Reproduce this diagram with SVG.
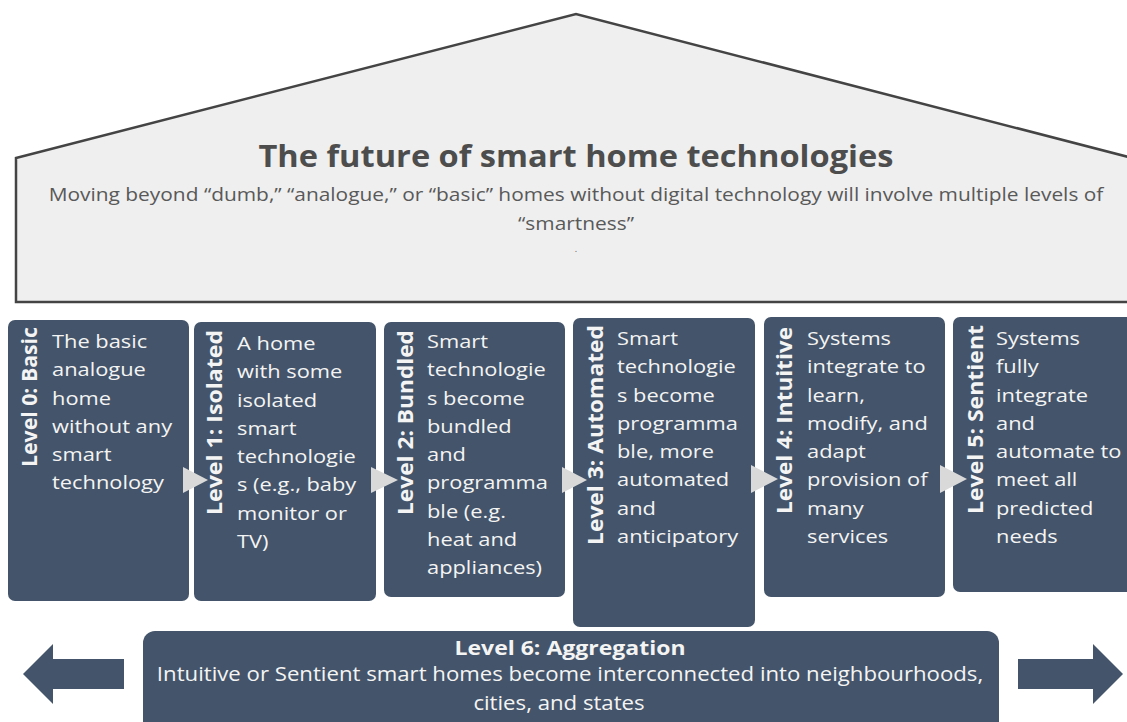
<svg xmlns="http://www.w3.org/2000/svg" width="1127" height="722" viewBox="0 0 1127 722">
<defs>
<style>
.box{fill:#44546a;}
.lbl{font-family:"Open Sans","Liberation Sans",sans-serif;font-weight:bold;font-size:22px;fill:#f4f4f4;}
.body{font-family:"Open Sans","Liberation Sans",sans-serif;font-size:19px;fill:#f4f4f4;}
.tri{fill:#d9d9d9;}
.big{fill:#44546a;}
.title{font-family:"Open Sans","Liberation Sans",sans-serif;font-weight:bold;font-size:31px;fill:#4d4d4d;}
.sub{font-family:"Open Sans","Liberation Sans",sans-serif;font-size:19px;fill:#595959;}
.dot{font-family:"Open Sans","Liberation Sans",sans-serif;font-size:9px;fill:#595959;}
.l6t{font-family:"Open Sans","Liberation Sans",sans-serif;font-weight:bold;font-size:20px;fill:#f4f4f4;}
.l6b{font-family:"Open Sans","Liberation Sans",sans-serif;font-size:20px;fill:#f4f4f4;}
</style>
</defs>
<rect width="1127" height="722" fill="#ffffff"/>
<g id="house">
<polygon points="16,158 576,14 1140,160 1140,302 16,302" fill="#efefef" stroke="#444444" stroke-width="2.5"/>
<text class="title" text-anchor="middle" x="576" y="167" textLength="635" lengthAdjust="spacingAndGlyphs">The future of smart home technologies</text>
<text class="sub" text-anchor="middle" transform="translate(576,201) scale(1.1,1)">Moving beyond “dumb,” “analogue,” or “basic” homes without digital technology will involve multiple levels of</text>
<text class="sub" text-anchor="middle" transform="translate(576,230) scale(1.1,1)">“smartness”</text>
<text class="dot" text-anchor="middle" x="576" y="252">.</text>
</g>
<g id="level0">
<rect class="box" x="8" y="320" width="181" height="281" rx="7"/>
<text class="lbl" text-anchor="end" transform="translate(37,327) rotate(-90)" textLength="140" lengthAdjust="spacingAndGlyphs">Level 0: Basic</text>
<text class="body" transform="translate(52,348) scale(1.15,1)"><tspan x="0" y="0">The basic</tspan><tspan x="0" y="28.3">analogue</tspan><tspan x="0" y="56.6">home</tspan><tspan x="0" y="84.9">without any</tspan><tspan x="0" y="113.2">smart</tspan><tspan x="0" y="141.5">technology</tspan></text>
</g>
<g id="level1">
<rect class="box" x="194" y="322" width="182" height="279" rx="7"/>
<text class="lbl" text-anchor="end" transform="translate(222,330) rotate(-90)" textLength="185" lengthAdjust="spacingAndGlyphs">Level 1: Isolated</text>
<text class="body" transform="translate(237,350) scale(1.15,1)"><tspan x="0" y="0">A home</tspan><tspan x="0" y="28.3">with some</tspan><tspan x="0" y="56.6">isolated</tspan><tspan x="0" y="84.9">smart</tspan><tspan x="0" y="113.2">technologie</tspan><tspan x="0" y="141.5">s (e.g., baby</tspan><tspan x="0" y="169.8">monitor or</tspan><tspan x="0" y="198.1">TV)</tspan></text>
</g>
<g id="level2">
<rect class="box" x="384" y="322" width="181" height="275" rx="7"/>
<text class="lbl" text-anchor="end" transform="translate(413,330) rotate(-90)" textLength="185" lengthAdjust="spacingAndGlyphs">Level 2: Bundled</text>
<text class="body" transform="translate(427,348) scale(1.15,1)"><tspan x="0" y="0">Smart</tspan><tspan x="0" y="28.3">technologie</tspan><tspan x="0" y="56.6">s become</tspan><tspan x="0" y="84.9">bundled</tspan><tspan x="0" y="113.2">and</tspan><tspan x="0" y="141.5">programma</tspan><tspan x="0" y="169.8">ble (e.g.</tspan><tspan x="0" y="198.1">heat and</tspan><tspan x="0" y="226.4">appliances)</tspan></text>
</g>
<g id="level3">
<rect class="box" x="573" y="318" width="182" height="309" rx="7"/>
<text class="lbl" text-anchor="end" transform="translate(603,325) rotate(-90)" textLength="220" lengthAdjust="spacingAndGlyphs">Level 3: Automated</text>
<text class="body" transform="translate(617,345) scale(1.15,1)"><tspan x="0" y="0">Smart</tspan><tspan x="0" y="28.3">technologie</tspan><tspan x="0" y="56.6">s become</tspan><tspan x="0" y="84.9">programma</tspan><tspan x="0" y="113.2">ble, more</tspan><tspan x="0" y="141.5">automated</tspan><tspan x="0" y="169.8">and</tspan><tspan x="0" y="198.1">anticipatory</tspan></text>
</g>
<g id="level4">
<rect class="box" x="764" y="317" width="181" height="280" rx="7"/>
<text class="lbl" text-anchor="end" transform="translate(792,327) rotate(-90)" textLength="187" lengthAdjust="spacingAndGlyphs">Level 4: Intuitive</text>
<text class="body" transform="translate(807,345) scale(1.15,1)"><tspan x="0" y="0">Systems</tspan><tspan x="0" y="28.3">integrate to</tspan><tspan x="0" y="56.6">learn,</tspan><tspan x="0" y="84.9">modify, and</tspan><tspan x="0" y="113.2">adapt</tspan><tspan x="0" y="141.5">provision of</tspan><tspan x="0" y="169.8">many</tspan><tspan x="0" y="198.1">services</tspan></text>
</g>
<g id="level5">
<rect class="box" x="953" y="317" width="185" height="275" rx="7"/>
<text class="lbl" text-anchor="end" transform="translate(983,325) rotate(-90)" textLength="189" lengthAdjust="spacingAndGlyphs">Level 5: Sentient</text>
<text class="body" transform="translate(996,345) scale(1.15,1)"><tspan x="0" y="0">Systems</tspan><tspan x="0" y="28.3">fully</tspan><tspan x="0" y="56.6">integrate</tspan><tspan x="0" y="84.9">and</tspan><tspan x="0" y="113.2">automate to</tspan><tspan x="0" y="141.5">meet all</tspan><tspan x="0" y="169.8">predicted</tspan><tspan x="0" y="198.1">needs</tspan></text>
</g>
<g id="level6">
<rect class="box" x="143" y="631" width="856" height="110" rx="12"/>
<text class="l6t" text-anchor="middle" transform="translate(570,655) scale(1.15,1)">Level 6: Aggregation</text>
<text class="l6b" text-anchor="middle" transform="translate(570,681) scale(1.11,1)">Intuitive or Sentient smart homes become interconnected into neighbourhoods,</text>
<text class="l6b" text-anchor="middle" transform="translate(559,710) scale(1.11,1)">cities, and states</text>
</g>
<g id="connectors">
<polygon class="tri" points="183,467 208,480 183,493"/>
<polygon class="tri" points="371,467 398,480 371,493"/>
<polygon class="tri" points="562,467 587,480 562,493"/>
<polygon class="tri" points="751,465 778,479 751,493"/>
<polygon class="tri" points="940,465 967,479 940,493"/>
<polygon class="big" points="23,674 53,644 53,659 124,659 124,689 53,689 53,704"/>
<polygon class="big" points="1018,659 1093,659 1093,644 1123,674 1093,704 1093,689 1018,689"/>
</g>
</svg>
